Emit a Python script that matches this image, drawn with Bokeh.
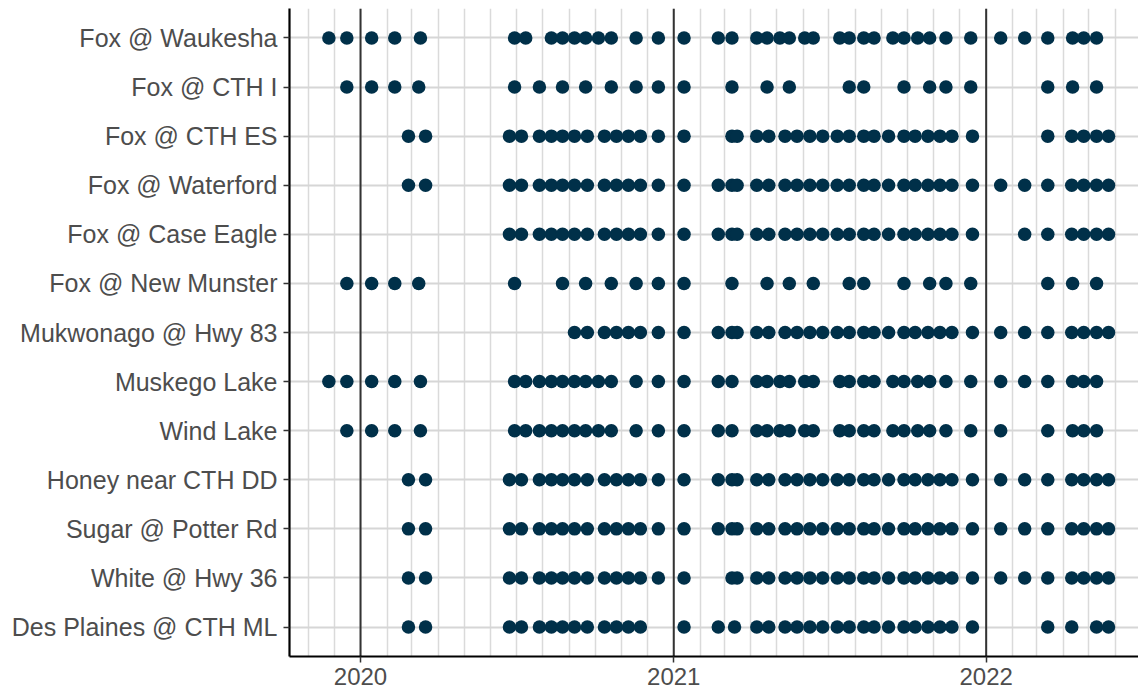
import pandas as pd
from datetime import datetime
from bokeh.plotting import figure
from bokeh.models import (ColumnDataSource, FactorRange, Range1d, MonthsTicker,
                          FixedTicker, Span, DatetimeTickFormatter)
from bokeh.embed import file_html
from bokeh.resources import INLINE

sites = ["Fox @ Waukesha", "Fox @ CTH I", "Fox @ CTH ES", "Fox @ Waterford",
         "Fox @ Case Eagle", "Fox @ New Munster", "Mukwonago @ Hwy 83",
         "Muskego Lake", "Wind Lake", "Honey near CTH DD", "Sugar @ Potter Rd",
         "White @ Hwy 36", "Des Plaines @ CTH ML"]

fox_waukesha = ["2019-11-25", "2019-12-16", "2020-01-14", "2020-02-10", "2020-03-11",
    "2020-06-29", "2020-07-12", "2020-08-11", "2020-08-24", "2020-09-07", "2020-09-20",
    "2020-10-05", "2020-10-20", "2020-11-18", "2020-12-14", "2021-01-13", "2021-02-22",
    "2021-03-10", "2021-04-08", "2021-04-20", "2021-05-05", "2021-05-16", "2021-06-03",
    "2021-06-13", "2021-07-14", "2021-07-25", "2021-08-11", "2021-08-23", "2021-09-14",
    "2021-09-27", "2021-10-13", "2021-10-27", "2021-11-15", "2021-12-14", "2022-01-18",
    "2022-02-15", "2022-03-14", "2022-04-12", "2022-04-25", "2022-05-10"]

fox_cth_i = ["2019-12-16", "2020-01-14", "2020-02-10", "2020-03-09", "2020-06-29",
    "2020-07-28", "2020-08-24", "2020-09-20", "2020-10-20", "2020-11-18", "2020-12-14",
    "2021-01-13", "2021-03-10", "2021-04-20", "2021-05-16", "2021-07-25", "2021-08-11",
    "2021-09-27", "2021-10-27", "2021-11-15", "2021-12-14", "2022-03-14", "2022-04-12",
    "2022-05-10"]

fox_cth_es = ["2020-02-26", "2020-03-17", "2020-06-23", "2020-07-07", "2020-07-28",
    "2020-08-11", "2020-08-24", "2020-09-07", "2020-09-22", "2020-10-12", "2020-10-26",
    "2020-11-09", "2020-11-23", "2020-12-14", "2021-01-13", "2021-03-10", "2021-03-16",
    "2021-04-08", "2021-04-22", "2021-05-11", "2021-05-25", "2021-06-09", "2021-06-24",
    "2021-07-11", "2021-07-25", "2021-08-11", "2021-08-23", "2021-09-09", "2021-09-27",
    "2021-10-10", "2021-10-25", "2021-11-08", "2021-11-22", "2021-12-16", "2022-03-14",
    "2022-04-11", "2022-04-25", "2022-05-10", "2022-05-24"]

fox_waterford = ["2020-02-26", "2020-03-17", "2020-06-23", "2020-07-07", "2020-07-28",
    "2020-08-11", "2020-08-24", "2020-09-07", "2020-09-22", "2020-10-12", "2020-10-26",
    "2020-11-09", "2020-11-23", "2020-12-14", "2021-01-13", "2021-02-22", "2021-03-10",
    "2021-03-16", "2021-04-08", "2021-04-22", "2021-05-11", "2021-05-25", "2021-06-09",
    "2021-06-24", "2021-07-11", "2021-07-25", "2021-08-11", "2021-08-23", "2021-09-09",
    "2021-09-27", "2021-10-10", "2021-10-25", "2021-11-08", "2021-11-22", "2021-12-16",
    "2022-01-18", "2022-02-15", "2022-03-14", "2022-04-11", "2022-04-25", "2022-05-10",
    "2022-05-24"]

fox_case_eagle = ["2020-06-23", "2020-07-07", "2020-07-28", "2020-08-11", "2020-08-24",
    "2020-09-07", "2020-09-22", "2020-10-12", "2020-10-26", "2020-11-09", "2020-11-23",
    "2020-12-14", "2021-01-13", "2021-02-22", "2021-03-10", "2021-03-16", "2021-04-08",
    "2021-04-22", "2021-05-11", "2021-05-25", "2021-06-09", "2021-06-24", "2021-07-11",
    "2021-07-25", "2021-08-11", "2021-08-23", "2021-09-09", "2021-09-27", "2021-10-10",
    "2021-10-25", "2021-11-08", "2021-11-22", "2021-12-16", "2022-02-15", "2022-03-14",
    "2022-04-11", "2022-04-25", "2022-05-10", "2022-05-24"]

fox_new_munster = ["2019-12-16", "2020-01-14", "2020-02-10", "2020-03-09", "2020-06-29",
    "2020-08-24", "2020-09-20", "2020-10-20", "2020-11-18", "2020-12-14", "2021-01-13",
    "2021-03-10", "2021-04-20", "2021-05-16", "2021-06-13", "2021-07-25", "2021-08-11",
    "2021-09-27", "2021-10-27", "2021-11-15", "2021-12-14", "2022-03-14", "2022-04-12",
    "2022-05-10"]

mukwonago = ["2020-09-07", "2020-09-22", "2020-10-12", "2020-10-26", "2020-11-09",
    "2020-11-23", "2020-12-14", "2021-01-13", "2021-02-22", "2021-03-10", "2021-03-16",
    "2021-04-08", "2021-04-22", "2021-05-11", "2021-05-25", "2021-06-09", "2021-06-24",
    "2021-07-11", "2021-07-25", "2021-08-11", "2021-08-23", "2021-09-09", "2021-09-27",
    "2021-10-10", "2021-10-25", "2021-11-08", "2021-11-22", "2021-12-16", "2022-01-18",
    "2022-02-15", "2022-03-14", "2022-04-11", "2022-04-25", "2022-05-10", "2022-05-24"]

muskego_lake = ["2019-11-25", "2019-12-16", "2020-01-14", "2020-02-10", "2020-03-11",
    "2020-06-29", "2020-07-12", "2020-07-28", "2020-08-11", "2020-08-24", "2020-09-07",
    "2020-09-20", "2020-10-05", "2020-10-20", "2020-11-18", "2020-12-14", "2021-01-13",
    "2021-02-22", "2021-03-10", "2021-04-08", "2021-04-20", "2021-05-05", "2021-05-16",
    "2021-06-03", "2021-06-13", "2021-07-14", "2021-07-25", "2021-08-11", "2021-08-23",
    "2021-09-14", "2021-09-27", "2021-10-13", "2021-10-27", "2021-11-15", "2021-12-14",
    "2022-01-18", "2022-02-15", "2022-03-14", "2022-04-12", "2022-04-25", "2022-05-10"]

wind_lake = ["2019-12-16", "2020-01-14", "2020-02-10", "2020-03-11",
    "2020-06-29", "2020-07-12", "2020-07-28", "2020-08-11", "2020-08-24", "2020-09-07",
    "2020-09-20", "2020-10-05", "2020-10-20", "2020-11-18", "2020-12-14", "2021-01-13",
    "2021-02-22", "2021-03-10", "2021-04-08", "2021-04-20", "2021-05-05", "2021-05-16",
    "2021-06-03", "2021-06-13", "2021-07-14", "2021-07-25", "2021-08-11", "2021-08-23",
    "2021-09-14", "2021-09-27", "2021-10-13", "2021-10-27", "2021-11-15", "2021-12-14",
    "2022-01-18", "2022-03-14", "2022-04-12", "2022-04-25", "2022-05-10"]

honey_dd = ["2020-02-26", "2020-03-17", "2020-06-23", "2020-07-07", "2020-07-28",
    "2020-08-11", "2020-08-24", "2020-09-07", "2020-09-22", "2020-10-12", "2020-10-26",
    "2020-11-09", "2020-11-23", "2020-12-14", "2021-01-13", "2021-02-22", "2021-03-10",
    "2021-03-16", "2021-04-08", "2021-04-22", "2021-05-11", "2021-05-25", "2021-06-09",
    "2021-06-24", "2021-07-11", "2021-07-25", "2021-08-11", "2021-08-23", "2021-09-09",
    "2021-09-27", "2021-10-10", "2021-10-25", "2021-11-08", "2021-11-22", "2021-12-16",
    "2022-01-18", "2022-02-15", "2022-03-14", "2022-04-11", "2022-04-25", "2022-05-10",
    "2022-05-24"]

sugar_potter = ["2020-02-26", "2020-03-17", "2020-06-23", "2020-07-07", "2020-07-28",
    "2020-08-11", "2020-08-24", "2020-09-07", "2020-09-22", "2020-10-12", "2020-10-26",
    "2020-11-09", "2020-11-23", "2020-12-14", "2021-01-13", "2021-02-22", "2021-03-10",
    "2021-03-16", "2021-04-08", "2021-04-22", "2021-05-11", "2021-05-25", "2021-06-09",
    "2021-06-24", "2021-07-11", "2021-07-25", "2021-08-11", "2021-08-23", "2021-09-09",
    "2021-09-27", "2021-10-10", "2021-10-25", "2021-11-08", "2021-11-22", "2021-12-16",
    "2022-01-18", "2022-02-15", "2022-03-14", "2022-04-11", "2022-04-25", "2022-05-10",
    "2022-05-24"]

white_hwy36 = ["2020-02-26", "2020-03-17", "2020-06-23", "2020-07-07", "2020-07-28",
    "2020-08-11", "2020-08-24", "2020-09-07", "2020-09-22", "2020-10-12", "2020-10-26",
    "2020-11-09", "2020-11-23", "2020-12-14", "2021-01-13", "2021-03-10",
    "2021-03-16", "2021-04-08", "2021-04-22", "2021-05-11", "2021-05-25", "2021-06-09",
    "2021-06-24", "2021-07-11", "2021-07-25", "2021-08-11", "2021-08-23", "2021-09-09",
    "2021-09-27", "2021-10-10", "2021-10-25", "2021-11-08", "2021-11-22", "2021-12-16",
    "2022-01-18", "2022-02-15", "2022-03-14", "2022-04-11", "2022-04-25", "2022-05-10",
    "2022-05-24"]

des_plaines = ["2020-02-26", "2020-03-17", "2020-06-23", "2020-07-07", "2020-07-28",
    "2020-08-11", "2020-08-24", "2020-09-07", "2020-09-22", "2020-10-12", "2020-10-26",
    "2020-11-09", "2020-11-23", "2021-01-13", "2021-02-22", "2021-03-13", "2021-04-08",
    "2021-04-22", "2021-05-11", "2021-05-25", "2021-06-09", "2021-06-24", "2021-07-11",
    "2021-07-25", "2021-08-11", "2021-08-23", "2021-09-09", "2021-09-27", "2021-10-10",
    "2021-10-25", "2021-11-08", "2021-11-22", "2021-12-16", "2022-03-14", "2022-04-11",
    "2022-05-10", "2022-05-24"]

year_ticks = ["2020-01-01", "2021-01-01", "2022-01-01"]

site_dates = [fox_waukesha, fox_cth_i, fox_cth_es, fox_waterford, fox_case_eagle,
              fox_new_munster, mukwonago, muskego_lake, wind_lake, honey_dd,
              sugar_potter, white_hwy36, des_plaines]

xs, ys = [], []
for s, dl in zip(sites, site_dates):
    for d in dl:
        xs.append(pd.Timestamp(d))
        ys.append(s)
src = ColumnDataSource(dict(x=xs, y=ys))

FONT = "Liberation Sans"
TXT = "#4d4d4d"

p = figure(width=1138, height=694, output_backend="svg", toolbar_location=None,
           x_axis_type="datetime",
           x_range=Range1d(datetime(2019, 10, 10), datetime(2022, 6, 28)),
           y_range=FactorRange(factors=list(reversed(sites)), range_padding=0.1,
                               range_padding_units="absolute"),
           min_border_left=289, min_border_right=0, min_border_top=8,
           min_border_bottom=38)
p.outline_line_color = None
p.background_fill_color = "white"
p.border_fill_color = "white"

# grids
p.xgrid.ticker = MonthsTicker(months=list(range(12)))
p.xgrid.grid_line_color = "#dadada"
p.xgrid.grid_line_width = 1.5
p.ygrid.grid_line_color = "#d6d6d6"
p.ygrid.grid_line_width = 2

year_ms = [pd.Timestamp(t).value // 10**6 for t in year_ticks]
for loc in year_ms:
    p.add_layout(Span(location=loc, dimension="height", line_color="#333333",
                      line_width=2, level="underlay"))

p.scatter("x", "y", source=src, size=13.5, color="#003049", line_color=None)

# axes
p.xaxis.ticker = FixedTicker(ticks=year_ms)
p.xaxis.formatter = DatetimeTickFormatter(years="%Y", months="%Y", days="%Y",
                                          hours="%Y", minutes="%Y", seconds="%Y")
for ax in (p.xaxis[0], p.yaxis[0]):
    ax.axis_line_color = "black"
    ax.axis_line_width = 2.2
    ax.major_tick_line_color = "#333333"
    ax.major_tick_line_width = 1.5
    ax.major_tick_out = 6
    ax.major_tick_in = 0
    ax.minor_tick_out = 0
    ax.minor_tick_in = 0
    ax.major_label_text_font = FONT
    ax.major_label_text_color = TXT
p.xaxis.major_label_text_font_size = "24px"
p.xaxis.major_label_standoff = 5
p.yaxis.major_label_text_font_size = "25px"
p.yaxis.major_label_standoff = 6

open("out.html", "w").write(file_html(p, INLINE))
